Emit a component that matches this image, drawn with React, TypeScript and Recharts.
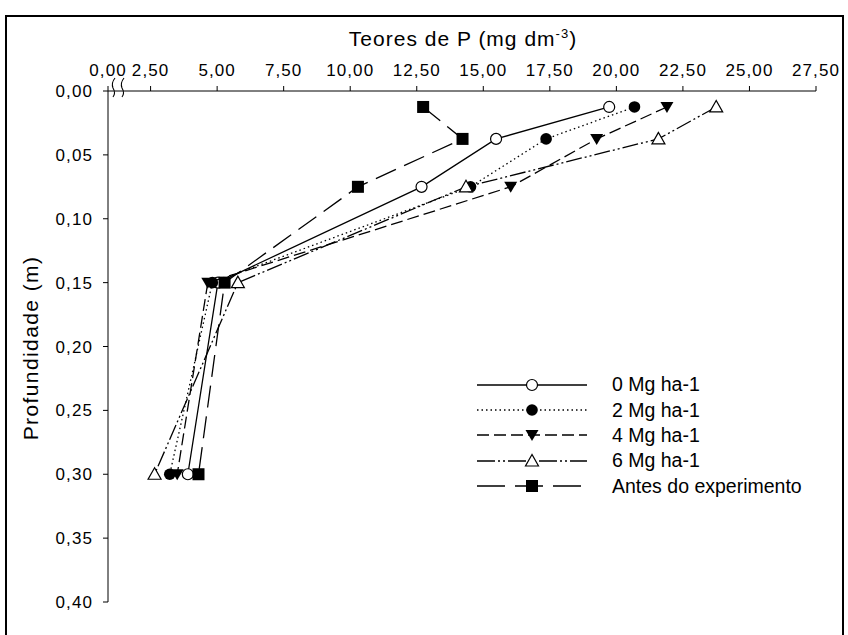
import React from "react";
import { ScatterChart, Scatter, XAxis, YAxis } from "recharts";

const depths = [0.0125, 0.0375, 0.075, 0.15, 0.3];
const p0 = [19.73, 15.48, 12.68, 5.03, 3.9];
const p2 = [20.68, 17.36, 14.52, 4.82, 3.22];
const p4 = [21.9, 19.26, 16.03, 4.65, 3.5];
const p6 = [23.75, 21.58, 14.35, 5.78, 2.65];
const antes = [12.74, 14.22, 10.29, 5.28, 4.3];

const xTicks = [0.9, 2.5, 5, 7.5, 10, 12.5, 15, 17.5, 20, 22.5, 25, 27.5];
const yTicks = [0, 0.05, 0.1, 0.15, 0.2, 0.25, 0.3, 0.35, 0.4];

const FONT = '"Liberation Sans", Arial, sans-serif';

type Kind = "openCircle" | "circle" | "triDown" | "triUp" | "square";

const series: { name: string; values: number[]; kind: Kind; dash?: string; legendDash?: string }[] = [
  { name: "0 Mg ha-1", values: p0, kind: "openCircle" },
  { name: "2 Mg ha-1", values: p2, kind: "circle", dash: "1.5 3", legendDash: "1.5 3" },
  { name: "4 Mg ha-1", values: p4, kind: "triDown", dash: "12 5", legendDash: "12 5" },
  { name: "6 Mg ha-1", values: p6, kind: "triUp", dash: "16 3 2 3 2 3", legendDash: "18 3 2 3 2 3" },
  { name: "Antes do experimento", values: antes, kind: "square", dash: "22 9", legendDash: "28 10" },
];

function marker(kind: Kind, cx: number, cy: number) {
  switch (kind) {
    case "openCircle":
      return <circle cx={cx} cy={cy} r={5.5} fill="#fff" stroke="#000" strokeWidth={1.2} />;
    case "circle":
      return <circle cx={cx} cy={cy} r={5.8} fill="#000" />;
    case "triDown":
      return (
        <polygon
          points={`${cx - 6.5},${cy - 5} ${cx + 6.5},${cy - 5} ${cx},${cy + 6}`}
          fill="#000"
        />
      );
    case "triUp":
      return (
        <polygon
          points={`${cx},${cy - 6.5} ${cx - 6.5},${cy + 5} ${cx + 6.5},${cy + 5}`}
          fill="#fff"
          stroke="#000"
          strokeWidth={1.2}
        />
      );
    default:
      return <rect x={cx - 6} y={cy - 6} width={12} height={12} fill="#000" />;
  }
}

const fmt = (v: number) => v.toFixed(2).replace(".", ",");

function XTick(props: any) {
  const { x, y, payload, index } = props;
  const label = index === 0 ? "0,00" : fmt(payload.value);
  return (
    <g>
      <text
        x={x}
        y={y}
        textAnchor="middle"
        fontSize={17}
        fontFamily={FONT}
        letterSpacing={1.1}
        fill="#000"
      >
        {label}
      </text>
      {index === 0 && (
        <g fill="none" stroke="#000" strokeWidth={1.1}>
          <path d={`M ${x + 7} ${y + 2} Q ${x + 3} ${y + 7} ${x + 5} ${y + 12} Q ${x + 8} ${y + 17} ${x + 5} ${y + 21}`} />
          <path d={`M ${x + 16} ${y + 2} Q ${x + 12} ${y + 7} ${x + 14} ${y + 12} Q ${x + 17} ${y + 17} ${x + 14} ${y + 21}`} />
        </g>
      )}
    </g>
  );
}

export default function App() {
  return (
    <div
      style={{
        position: "fixed",
        left: 0,
        top: 0,
        width: 848,
        height: 635,
        background: "#fff",
        overflow: "hidden",
        fontFamily: FONT,
      }}
    >
      <div
        style={{
          position: "absolute",
          left: 5,
          top: 15,
          width: 835,
          height: 650,
          border: "2px solid #000",
        }}
      />
      <div
        style={{
          position: "absolute",
          left: 263,
          width: 400,
          top: 27,
          textAlign: "center",
          fontSize: 21,
          letterSpacing: 1,
          lineHeight: "24px",
          whiteSpace: "nowrap",
        }}
      >
        Teores de P (mg dm
        <span style={{ fontSize: 13, position: "relative", top: -8 }}>-3</span>)
      </div>
      <div
        style={{
          position: "absolute",
          left: 31 - 120,
          width: 240,
          top: 348 - 12,
          lineHeight: "24px",
          textAlign: "center",
          fontSize: 21,
          letterSpacing: 1.4,
          transform: "rotate(-90deg)",
          transformOrigin: "center",
          whiteSpace: "nowrap",
        }}
      >
        Profundidade (m)
      </div>
      <div style={{ position: "absolute", left: 0, top: 0 }}>
        <ScatterChart width={848} height={635} margin={{ top: 61, right: 32, bottom: 33, left: 38 }}>
          <XAxis
            type="number"
            dataKey="x"
            orientation="top"
            domain={[0.9, 27.5]}
            ticks={xTicks}
            allowDataOverflow
            height={30}
            tickSize={5}
            tickMargin={10}
            stroke="#000"
            tick={<XTick />}
          />
          <YAxis
            type="number"
            dataKey="y"
            reversed
            domain={[0, 0.4]}
            ticks={yTicks}
            width={70}
            tickSize={5}
            tickMargin={10}
            stroke="#000"
            tickFormatter={fmt}
            tick={{ fill: "#000", fontSize: 17, fontFamily: FONT, letterSpacing: 1.1 } as any}
          />
          {series.map((s) => (
            <Scatter
              key={s.name}
              name={s.name}
              data={s.values.map((v, i) => ({ x: v, y: depths[i] }))}
              fill="#000"
              line={{ stroke: "#000", strokeWidth: 1.3, strokeDasharray: s.dash } as any}
              lineType="joint"
              isAnimationActive={false}
              shape={(p: any) => marker(s.kind, p.cx, p.cy)}
            />
          ))}
        </ScatterChart>
      </div>
      <div style={{ position: "absolute", left: 477, top: 372 }}>
        {series.map((s) => (
          <div key={s.name} style={{ display: "flex", alignItems: "center", height: 25.4 }}>
            <svg width={110} height={24} style={{ display: "block" }}>
              <line
                x1={0}
                y1={12}
                x2={110}
                y2={12}
                stroke="#000"
                strokeWidth={1.3}
                strokeDasharray={s.legendDash}
              />
              {marker(s.kind, 55, 12)}
            </svg>
            <span style={{ marginLeft: 25, fontSize: 19.5, whiteSpace: "nowrap" }}>{s.name}</span>
          </div>
        ))}
      </div>
    </div>
  );
}
